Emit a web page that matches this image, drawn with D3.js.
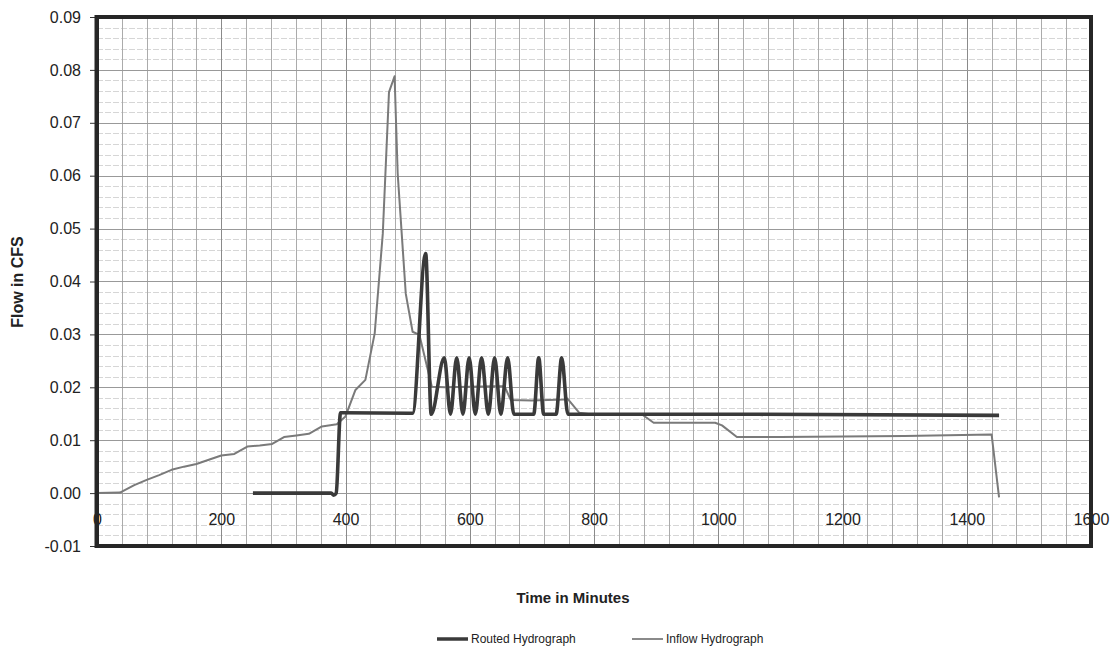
<!DOCTYPE html>
<html>
<head>
<meta charset="utf-8">
<script src="https://cdn.jsdelivr.net/npm/d3@7"></script>
<style>
  body { margin: 0; background: #fff; }
  text { font-family: "Liberation Sans", Arial, sans-serif; }
</style>
</head>
<body>
<div id="chart"></div>
<script>
// routed vs inflow hydrograph (flow in CFS over time in minutes)
const xTicks = [0, 200, 400, 600, 800, 1000, 1200, 1400, 1600];
const yTicks = [-0.01, 0, 0.01, 0.02, 0.03, 0.04, 0.05, 0.06, 0.07, 0.08, 0.09];
const seriesNames = ['Routed Hydrograph', 'Inflow Hydrograph'];

const inflowTime = [0, 37, 60, 80, 100, 120, 140, 160, 180, 200, 221, 242, 262, 282, 301, 321, 341, 362, 386, 400,
  416, 432, 447, 460, 470, 479, 484, 497, 508, 519, 539, 560, 600, 640, 656, 666, 700, 752, 757, 776,
  800, 878, 896, 995, 1006, 1030, 1100, 1200, 1300, 1440, 1452];
const inflowFlow = [0, 0.0001, 0.0015, 0.0025, 0.0034, 0.0044, 0.005, 0.0055, 0.0063, 0.0071, 0.0074, 0.0088, 0.009, 0.0093, 0.0106, 0.0109, 0.0112, 0.0126, 0.013, 0.0145,
  0.0195, 0.0214, 0.0302, 0.049, 0.0758, 0.0788, 0.0604, 0.0377, 0.0305, 0.0299, 0.0201, 0.02, 0.0201, 0.0202, 0.0202, 0.0176, 0.0175, 0.0177, 0.0179, 0.0152,
  0.0148, 0.0148, 0.0133, 0.0133, 0.0128, 0.0106, 0.0106, 0.0107, 0.0108, 0.0111, -0.0008];

const routedTime = [251, 377, 381, 385, 392, 508, 529, 538, 559, 569, 579, 589, 599, 609, 619, 630, 640, 650, 661, 671,
  703, 711, 719, 739, 748, 758, 1000, 1452];
const routedFlow = [0, 0, -0.0004, 0, 0.0152, 0.0151, 0.0453, 0.0149, 0.0256, 0.0149, 0.0256, 0.0149, 0.0256, 0.0149, 0.0256, 0.0149, 0.0256, 0.0149, 0.0256, 0.0149,
  0.0149, 0.0256, 0.0149, 0.0149, 0.0256, 0.0149, 0.0149, 0.0147];

const width = 1115, height = 647;
const plot = { left: 97, top: 17, right: 1091, bottom: 546 };

const svg = d3.select('#chart').append('svg').attr('width', width).attr('height', height);

const x = d3.scaleLinear().domain([0, 1600]).range([plot.left, plot.right]);
const y = d3.scaleLinear().domain([-0.01, 0.09]).range([plot.bottom, plot.top]);

// grid paper
const grid = svg.append('g');
const minorY = d3.range(-0.01, 0.0901, 0.002).filter(v => Math.abs(v * 100 - Math.round(v * 100)) > 1e-6);
grid.selectAll('.minor-y').data(minorY).enter().append('line')
  .attr('x1', plot.left).attr('x2', plot.right)
  .attr('y1', d => Math.round(y(d)) + 0.5).attr('y2', d => Math.round(y(d)) + 0.5)
  .attr('stroke', '#d6d6d6').attr('stroke-width', 1).attr('stroke-dasharray', '6,2');
grid.selectAll('.v').data(d3.range(40, 1600, 40)).enter().append('line')
  .attr('x1', d => Math.round(x(d)) + 0.5).attr('x2', d => Math.round(x(d)) + 0.5)
  .attr('y1', plot.top).attr('y2', plot.bottom)
  .attr('stroke', d => d % 200 === 0 ? '#8a8a8a' : '#ababab').attr('stroke-width', 1);
grid.selectAll('.major-y').data(yTicks.slice(1)).enter().append('line')
  .attr('x1', plot.left).attr('x2', plot.right)
  .attr('y1', d => Math.round(y(d)) + 0.5).attr('y2', d => Math.round(y(d)) + 0.5)
  .attr('stroke', '#999').attr('stroke-width', 1);

// x labels sit inside the plot, under the zero line
const xAxis = svg.append('g').attr('transform', `translate(0,${y(0) + 18})`)
  .call(d3.axisBottom(x).tickValues(xTicks).tickSize(0).tickFormat(d3.format('d')));
xAxis.select('.domain').remove();
xAxis.selectAll('text').attr('font-size', 16).attr('fill', '#222')
  .style('font-family', '"Liberation Sans", Arial, sans-serif');

const fmtY = d => d3.format('.2f')(d).replace('\u2212', '-');
const yAxis = svg.append('g').attr('transform', `translate(${plot.left},0)`)
  .call(d3.axisLeft(y).tickValues(yTicks).tickSize(7).tickPadding(9).tickFormat(fmtY));
yAxis.select('.domain').remove();
yAxis.selectAll('line').attr('stroke', '#333');
yAxis.selectAll('text').attr('font-size', 16).attr('fill', '#222')
  .style('font-family', '"Liberation Sans", Arial, sans-serif');

// series
const inflow = inflowTime.map((t, i) => [t, inflowFlow[i]]);
const routed = routedTime.map((t, i) => [t, routedFlow[i]]);

const line = d3.line().x(d => x(d[0])).y(d => y(d[1]));
const smoothLine = d3.line().x(d => x(d[0])).y(d => y(d[1])).curve(d3.curveMonotoneX);

svg.append('path').datum(inflow).attr('d', line)
  .attr('fill', 'none').attr('stroke', '#7a7a7a').attr('stroke-width', 2).attr('stroke-linejoin', 'round');
svg.append('path').datum(routed).attr('d', smoothLine)
  .attr('fill', 'none').attr('stroke', '#3a3a3a').attr('stroke-width', 3.6).attr('stroke-linejoin', 'round');

// frame
svg.append('rect')
  .attr('x', plot.left).attr('y', plot.top)
  .attr('width', plot.right - plot.left).attr('height', plot.bottom - plot.top)
  .attr('fill', 'none').attr('stroke', '#262626').attr('stroke-width', 4);
svg.append('line').attr('x1', plot.left - 1).attr('x2', plot.left - 1)
  .attr('y1', plot.top - 2).attr('y2', plot.bottom + 2)
  .attr('stroke', '#262626').attr('stroke-width', 3);

// axis titles
svg.append('text').attr('x', 573).attr('y', 603).attr('text-anchor', 'middle')
  .attr('font-size', 15).attr('font-weight', 'bold').attr('fill', '#222').text('Time in Minutes');
svg.append('text').attr('transform', 'translate(23,282) rotate(-90)').attr('text-anchor', 'middle')
  .attr('font-size', 16).attr('font-weight', 'bold').attr('fill', '#222').text('Flow in CFS');

// legend
const legend = svg.append('g');
const legendX = [437, 632];
const legendStyle = [{ stroke: '#3a3a3a', w: 3.5 }, { stroke: '#8a8a8a', w: 2 }];
seriesNames.forEach((name, i) => {
  legend.append('line').attr('x1', legendX[i]).attr('x2', legendX[i] + 31)
    .attr('y1', 639).attr('y2', 639)
    .attr('stroke', legendStyle[i].stroke).attr('stroke-width', legendStyle[i].w);
  legend.append('text').attr('x', legendX[i] + 34).attr('y', 643)
    .attr('font-size', 12).attr('fill', '#222').text(name);
});
</script>
</body>
</html>
